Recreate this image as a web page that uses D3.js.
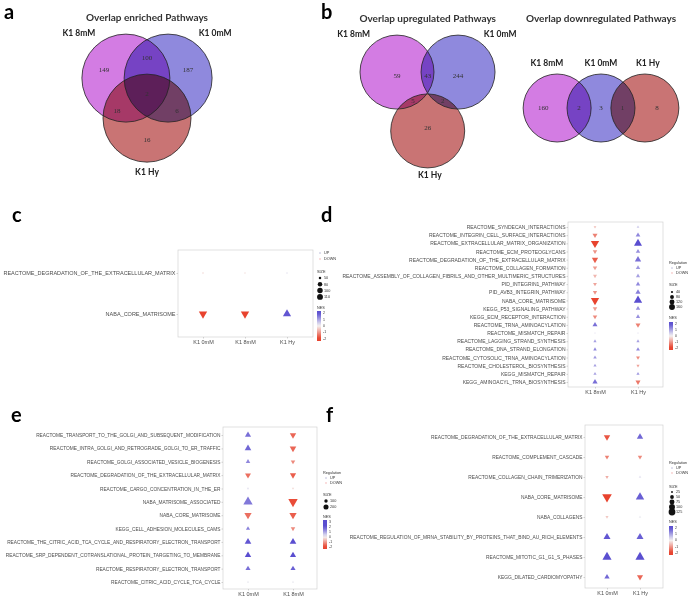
<!DOCTYPE html>
<html>
<head>
<meta charset="utf-8">
<script src="https://cdn.jsdelivr.net/npm/d3@7"></script>
<style>
  body { margin: 0; background: #fff; }
  svg { display: block; }
</style>
</head>
<body>
<script>
// ---------- data ----------
// venn counts, regions: [A only, A&B, B only, A&C, A&B&C, B&C, C only]
const vennSets = ["K1 8mM", "K1 0mM", "K1 Hy"];
const enrichedCounts = [149, 100, 187, 18, 2, 6, 16];
const upCounts = [59, 43, 244, 5, null, 2, 26];
const downCounts = [160, 2, 3, null, null, 1, 8];   // drawn as a chain 8mM - 0mM - Hy

// c
const cRows = ["REACTOME_DEGRADATION_OF_THE_EXTRACELLULAR_MATRIX", "NABA_CORE_MATRISOME"];
const cCols = ["K1 0mM", "K1 8mM", "K1 Hy"];
const cNES = [[-0.3, -2.0], [-0.2, -2.0], [0.2, 1.9]];
const cSize = [[42, 110], [42, 110], [42, 108]];
const cSizeTicks = [50, 80, 100, 110];

// d
const dRows = ["REACTOME_SYNDECAN_INTERACTIONS", "REACTOME_INTEGRIN_CELL_SURFACE_INTERACTIONS",
  "REACTOME_EXTRACELLULAR_MATRIX_ORGANIZATION", "REACTOME_ECM_PROTEOGLYCANS",
  "REACTOME_DEGRADATION_OF_THE_EXTRACELLULAR_MATRIX", "REACTOME_COLLAGEN_FORMATION",
  "REACTOME_ASSEMBLY_OF_COLLAGEN_FIBRILS_AND_OTHER_MULTIMERIC_STRUCTURES", "PID_INTEGRIN1_PATHWAY",
  "PID_AVB3_INTEGRIN_PATHWAY", "NABA_CORE_MATRISOME", "KEGG_P53_SIGNALING_PATHWAY",
  "KEGG_ECM_RECEPTOR_INTERACTION", "REACTOME_TRNA_AMINOACYLATION", "REACTOME_MISMATCH_REPAIR",
  "REACTOME_LAGGING_STRAND_SYNTHESIS", "REACTOME_DNA_STRAND_ELONGATION",
  "REACTOME_CYTOSOLIC_TRNA_AMINOACYLATION", "REACTOME_CHOLESTEROL_BIOSYNTHESIS",
  "KEGG_MISMATCH_REPAIR", "KEGG_AMINOACYL_TRNA_BIOSYNTHESIS"];
const dCols = ["K1 8mM", "K1 Hy"];
const dNES = [
  [-0.6, -1.3, -2.2, -1.1, -1.7, -1.0, -0.7, -0.9, -1.1, -2.2, -1.0, -1.2, 1.6, 0.2, 1.0, 1.3, 1.1, 1.0, 1.0, 1.6],
  [0.5, 1.3, 2.0, 1.2, 1.6, 1.1, 1.0, 1.3, 1.4, 2.0, 1.2, 1.2, -1.3, 0.2, 1.0, 1.3, -1.2, -0.9, 1.1, -1.4]];
const dSize = [
  [35, 70, 160, 60, 100, 60, 50, 50, 55, 160, 60, 60, 70, 25, 40, 45, 45, 40, 40, 75],
  [35, 65, 150, 60, 100, 60, 55, 60, 75, 160, 60, 55, 70, 25, 40, 50, 50, 40, 40, 70]];
const dSizeTicks = [40, 80, 120, 160];

// e
const eRows = ["REACTOME_TRANSPORT_TO_THE_GOLGI_AND_SUBSEQUENT_MODIFICATION",
  "REACTOME_INTRA_GOLGI_AND_RETROGRADE_GOLGI_TO_ER_TRAFFIC", "REACTOME_GOLGI_ASSOCIATED_VESICLE_BIOGENESIS",
  "REACTOME_DEGRADATION_OF_THE_EXTRACELLULAR_MATRIX", "REACTOME_CARGO_CONCENTRATION_IN_THE_ER",
  "NABA_MATRISOME_ASSOCIATED", "NABA_CORE_MATRISOME", "KEGG_CELL_ADHESION_MOLECULES_CAMS",
  "REACTOME_THE_CITRIC_ACID_TCA_CYCLE_AND_RESPIRATORY_ELECTRON_TRANSPORT",
  "REACTOME_SRP_DEPENDENT_COTRANSLATIONAL_PROTEIN_TARGETING_TO_MEMBRANE",
  "REACTOME_RESPIRATORY_ELECTRON_TRANSPORT", "REACTOME_CITRIC_ACID_CYCLE_TCA_CYCLE"];
const eCols = ["K1 0mM", "K1 8mM"];
const eNES = [
  [1.6, 1.7, 1.3, -1.5, 0.2, 1.5, -1.5, 1.4, 1.9, 2.1, 1.6, 0.1],
  [-1.6, -1.6, -1.2, -1.7, -0.3, -1.9, -1.7, -1.2, 2.0, 2.3, 1.8, 0.1]];
const eSize = [
  [150, 170, 90, 140, 40, 320, 200, 80, 170, 160, 110, 40],
  [160, 170, 90, 150, 40, 320, 200, 90, 170, 150, 110, 40]];
const eSizeTicks = [100, 200];

// f
const fRows = ["REACTOME_DEGRADATION_OF_THE_EXTRACELLULAR_MATRIX", "REACTOME_COMPLEMENT_CASCADE",
  "REACTOME_COLLAGEN_CHAIN_TRIMERIZATION", "NABA_CORE_MATRISOME", "NABA_COLLAGENS",
  "REACTOME_REGULATION_OF_MRNA_STABILITY_BY_PROTEINS_THAT_BIND_AU_RICH_ELEMENTS",
  "REACTOME_MITOTIC_G1_G1_S_PHASES", "KEGG_DILATED_CARDIOMYOPATHY"];
const fCols = ["K1 0mM", "K1 Hy"];
const fNES = [
  [-1.8, -1.3, -0.8, -2.0, -0.5, 1.9, 2.0, 1.7],
  [1.7, -1.2, 0.2, 1.8, 0.1, 1.8, 2.1, -1.6]];
const fSize = [
  [65, 40, 30, 125, 28, 75, 115, 50],
  [65, 40, 25, 100, 25, 75, 115, 60]];
const fSizeTicks = [25, 50, 75, 100, 125];

// ---------- drawing ----------
const W = 689, H = 597;
const svg = d3.select("body").append("svg").attr("width", W).attr("height", H)
  .style("font-family", "'Liberation Sans', Arial, sans-serif");

const blue = "#5a4ed0", red = "#e8432e", txt = "#4d4d4d";
const vennFill = ["#d37ce3", "#8f89dd", "#c97474"];

let letter = (s, x, y) => svg.append("text").attr("x", x).attr("y", y).text(s)
  .attr("font-family", "Lato, sans-serif").attr("font-weight", "bold").attr("font-size", 20);

letter("a", 4, 19); letter("b", 321, 19);
letter("c", 12, 222); letter("d", 321, 222);
letter("e", 11, 422); letter("f", 326, 422);

// venn: layout in units of the radius, mapped with linear scales
function venn(o) {
  let g = svg.append("g");
  let sx = d3.scaleLinear().domain([0, 1]).range([o.cx, o.cx + o.r]);
  let sy = d3.scaleLinear().domain([0, 1]).range([o.cy, o.cy + o.r]);
  g.append("text").attr("x", o.cx).attr("y", o.titleY).attr("text-anchor", "middle")
    .attr("font-family", "Lato, sans-serif").attr("font-weight", "bold").attr("font-size", 10)
    .attr("fill", "#333").text(o.title);
  let fills = g.append("g");
  fills.selectAll("circle").data(o.centers).join("circle")
    .attr("cx", d => sx(d[0])).attr("cy", d => sy(d[1])).attr("r", o.r)
    .attr("fill", (d, i) => vennFill[i]).style("mix-blend-mode", "multiply");
  g.append("g").selectAll("circle").data(o.centers).join("circle")
    .attr("cx", d => sx(d[0])).attr("cy", d => sy(d[1])).attr("r", o.r)
    .attr("fill", "none").attr("stroke", "#222").attr("stroke-width", 0.8);
  g.selectAll(".cnt").data(o.counts.map((c, i) => [c, o.countPos[i]]).filter(d => d[0] != null))
    .join("text").attr("class", "cnt")
    .attr("x", d => sx(d[1][0])).attr("y", d => sy(d[1][1])).attr("dy", "0.35em")
    .attr("text-anchor", "middle").attr("font-family", "'Liberation Serif', serif")
    .attr("font-size", 7).attr("fill", "#333").text(d => d[0]);
  g.selectAll(".lab").data(vennSets).join("text").attr("class", "lab")
    .attr("x", (d, i) => sx(o.labelPos[i][0])).attr("y", (d, i) => sy(o.labelPos[i][1]))
    .attr("dy", "0.35em").attr("text-anchor", "middle")
    .attr("font-family", "Lato, sans-serif").attr("font-weight", "bold").attr("font-size", 8.5)
    .attr("fill", "#222").text(d => d);
}

venn({cx: 147, cy: 91.3, r: 44, title: "Overlap enriched Pathways", titleY: 21,
  centers: [[-0.48, -0.3], [0.48, -0.3], [0, 0.61]],
  counts: enrichedCounts,
  countPos: [[-0.98, -0.5], [0, -0.76], [0.93, -0.5], [-0.68, 0.43], [0, 0.04], [0.68, 0.43], [0, 1.1]],
  labelPos: [[-1.55, -1.33], [1.55, -1.33], [0, 1.83]]});

venn({cx: 427.7, cy: 91.7, r: 37, title: "Overlap upregulated Pathways", titleY: 22,
  centers: [[-0.83, -0.53], [0.82, -0.53], [0, 1.06]],
  counts: upCounts,
  countPos: [[-0.83, -0.45], [0, -0.45], [0.82, -0.45], [-0.4, 0.25], [0, 0], [0.41, 0.25], [0, 0.98]],
  labelPos: [[-2.0, -1.56], [1.96, -1.56], [0.06, 2.25]]});

venn({cx: 601, cy: 108, r: 34, title: "Overlap downregulated Pathways", titleY: 22,
  centers: [[-1.29, 0], [0, 0], [1.29, 0]],
  counts: downCounts,
  countPos: [[-1.7, 0], [-0.65, 0], [0, 0], [0, 0], [0, 0], [0.63, 0], [1.65, 0]],
  labelPos: [[-1.59, -1.32], [0, -1.32], [1.38, -1.32]]});

// dot plots
function dotPanel(o) {
  let g = svg.append("g");
  let [x0, y0, x1, y1] = o.box;
  let x = d3.scalePoint().domain(o.cols).range(o.colX);
  let y = d3.scalePoint().domain(o.rows).range(o.rowY);
  let area = d3.scaleLinear().domain(o.sizeDomain).range([1.2, o.maxArea]);
  let color = d3.scaleLinear().domain([-2, 0, 2]).range([red, "#f4f4f4", blue]).clamp(true);

  g.append("rect").attr("x", x0).attr("y", y0).attr("width", x1 - x0).attr("height", y1 - y0)
    .attr("fill", "#fff").attr("stroke", "#d3d3d3").attr("stroke-width", 0.7);

  let ya = g.append("g").attr("transform", `translate(${x0},0)`)
    .call(d3.axisLeft(y).tickSize(1.5).tickPadding(1));
  ya.select(".domain").remove();
  ya.selectAll("line").attr("stroke", "#aaa").attr("stroke-width", 0.5);
  ya.selectAll("text").attr("font-size", o.font).attr("fill", txt).attr("font-family", null);

  let xa = g.append("g").attr("transform", `translate(0,${y1})`)
    .call(d3.axisBottom(x).tickSize(1.5).tickPadding(1.5));
  xa.select(".domain").remove();
  xa.selectAll("line").attr("stroke", "#aaa").attr("stroke-width", 0.5);
  xa.selectAll("text").attr("font-size", 5.5).attr("fill", txt).attr("font-family", null);

  let cells = [];
  o.cols.forEach((c, j) => o.rows.forEach((r, i) =>
    cells.push({r, c, nes: o.nes[j][i], size: o.size[j][i]})));
  g.selectAll(".pt").data(cells).join("path").attr("class", "pt")
    .attr("d", d => d3.symbol(d3.symbolTriangle, area(d.size))())
    .attr("transform", d => `translate(${x(d.c)},${y(d.r)}) rotate(${d.nes < 0 ? 180 : 0})`)
    .attr("fill", d => color(d.nes));

  // legend
  let L = o.legend, lf = 3.8;
  let lg = g.append("g").attr("font-size", lf).attr("fill", "#333");
  if (L.title) lg.append("text").attr("x", L.x - 3).attr("y", L.title).text("Regulation");
  [["UP", L.up, 0], ["DOWN", L.down, 180]].forEach(([t, yy, rot]) => {
    lg.append("path").attr("d", d3.symbol(d3.symbolTriangle, 2)())
      .attr("transform", `translate(${L.x},${yy}) rotate(${rot})`)
      .attr("fill", rot ? "#f3b3b3" : "#b8b8d8");
    lg.append("text").attr("x", L.x + 4).attr("y", yy).attr("dy", "0.35em").text(t);
  });
  lg.append("text").attr("x", L.x - 3).attr("y", L.sizeTitle).text("SIZE");
  o.sizeTicks.forEach((s, i) => {
    let yy = L.sizeY[0] + i * L.sizeY[1];
    lg.append("circle").attr("cx", L.x).attr("cy", yy).attr("r", Math.sqrt(area(s) / Math.PI) * 0.95)
      .attr("fill", "#111");
    lg.append("text").attr("x", L.x + 4).attr("y", yy).attr("dy", "0.35em").text(s);
  });
  lg.append("text").attr("x", L.x - 3).attr("y", L.nesTitle).text("NES");
  let gid = "grad" + o.id;
  let grad = svg.append("defs").append("linearGradient").attr("id", gid)
    .attr("x1", 0).attr("x2", 0).attr("y1", 0).attr("y2", 1);
  let top = o.nesTicks[0], bot = o.nesTicks[o.nesTicks.length - 1] - 0.4;
  let nesY = d3.scaleLinear().domain([top + 0.3, bot]).range([L.bar[0], L.bar[1]]);
  d3.range(0, 1.001, 0.1).forEach(t => {
    let v = top + 0.3 + t * (bot - top - 0.3);
    grad.append("stop").attr("offset", t).attr("stop-color", color(v));
  });
  lg.append("rect").attr("x", L.x - 3).attr("y", L.bar[0]).attr("width", 4)
    .attr("height", L.bar[1] - L.bar[0]).attr("fill", `url(#${gid})`);
  o.nesTicks.forEach(v => {
    lg.append("text").attr("x", L.x + 3).attr("y", nesY(v)).attr("dy", "0.35em")
      .attr("font-size", 3.5).text(v);
  });
}

dotPanel({id: "c", rows: cRows, cols: cCols, nes: cNES, size: cSize, font: 5.5,
  box: [178, 250, 313, 337], colX: [203, 287], rowY: [273, 314],
  sizeDomain: [40, 110], maxArea: 30, sizeTicks: cSizeTicks, nesTicks: [2, 1, 0, -1, -2],
  legend: {x: 320, title: null, up: 253, down: 259, sizeTitle: 273, sizeY: [278, 6.3],
    nesTitle: 309, bar: [311, 341]}});

dotPanel({id: "d", rows: dRows, cols: dCols, nes: dNES, size: dSize, font: 5,
  box: [568, 222, 663, 387], colX: [595, 638], rowY: [227, 382],
  sizeDomain: [25, 160], maxArea: 30, sizeTicks: dSizeTicks, nesTicks: [2, 1, 0, -1, -2],
  legend: {x: 672, title: 264, up: 268, down: 273, sizeTitle: 286, sizeY: [292, 5],
    nesTitle: 319, bar: [322, 350]}});

dotPanel({id: "e", rows: eRows, cols: eCols, nes: eNES, size: eSize, font: 4.8,
  box: [223, 427, 317, 589], colX: [248, 293], rowY: [435, 582],
  sizeDomain: [30, 320], maxArea: 38, sizeTicks: eSizeTicks, nesTicks: [3, 2, 1, 0, -1, -2],
  legend: {x: 326, title: 474, up: 478, down: 483, sizeTitle: 496, sizeY: [501, 6],
    nesTitle: 518, bar: [520, 549]}});

dotPanel({id: "f", rows: fRows, cols: fCols, nes: fNES, size: fSize, font: 4.85,
  box: [585, 425, 663, 588], colX: [607, 640], rowY: [437, 577],
  sizeDomain: [20, 125], maxArea: 40, sizeTicks: fSizeTicks, nesTicks: [2, 1, 0, -1, -2],
  legend: {x: 672, title: 464, up: 468, down: 473, sizeTitle: 488, sizeY: [492, 5],
    nesTitle: 523, bar: [526, 555]}});
</script>
</body>
</html>
